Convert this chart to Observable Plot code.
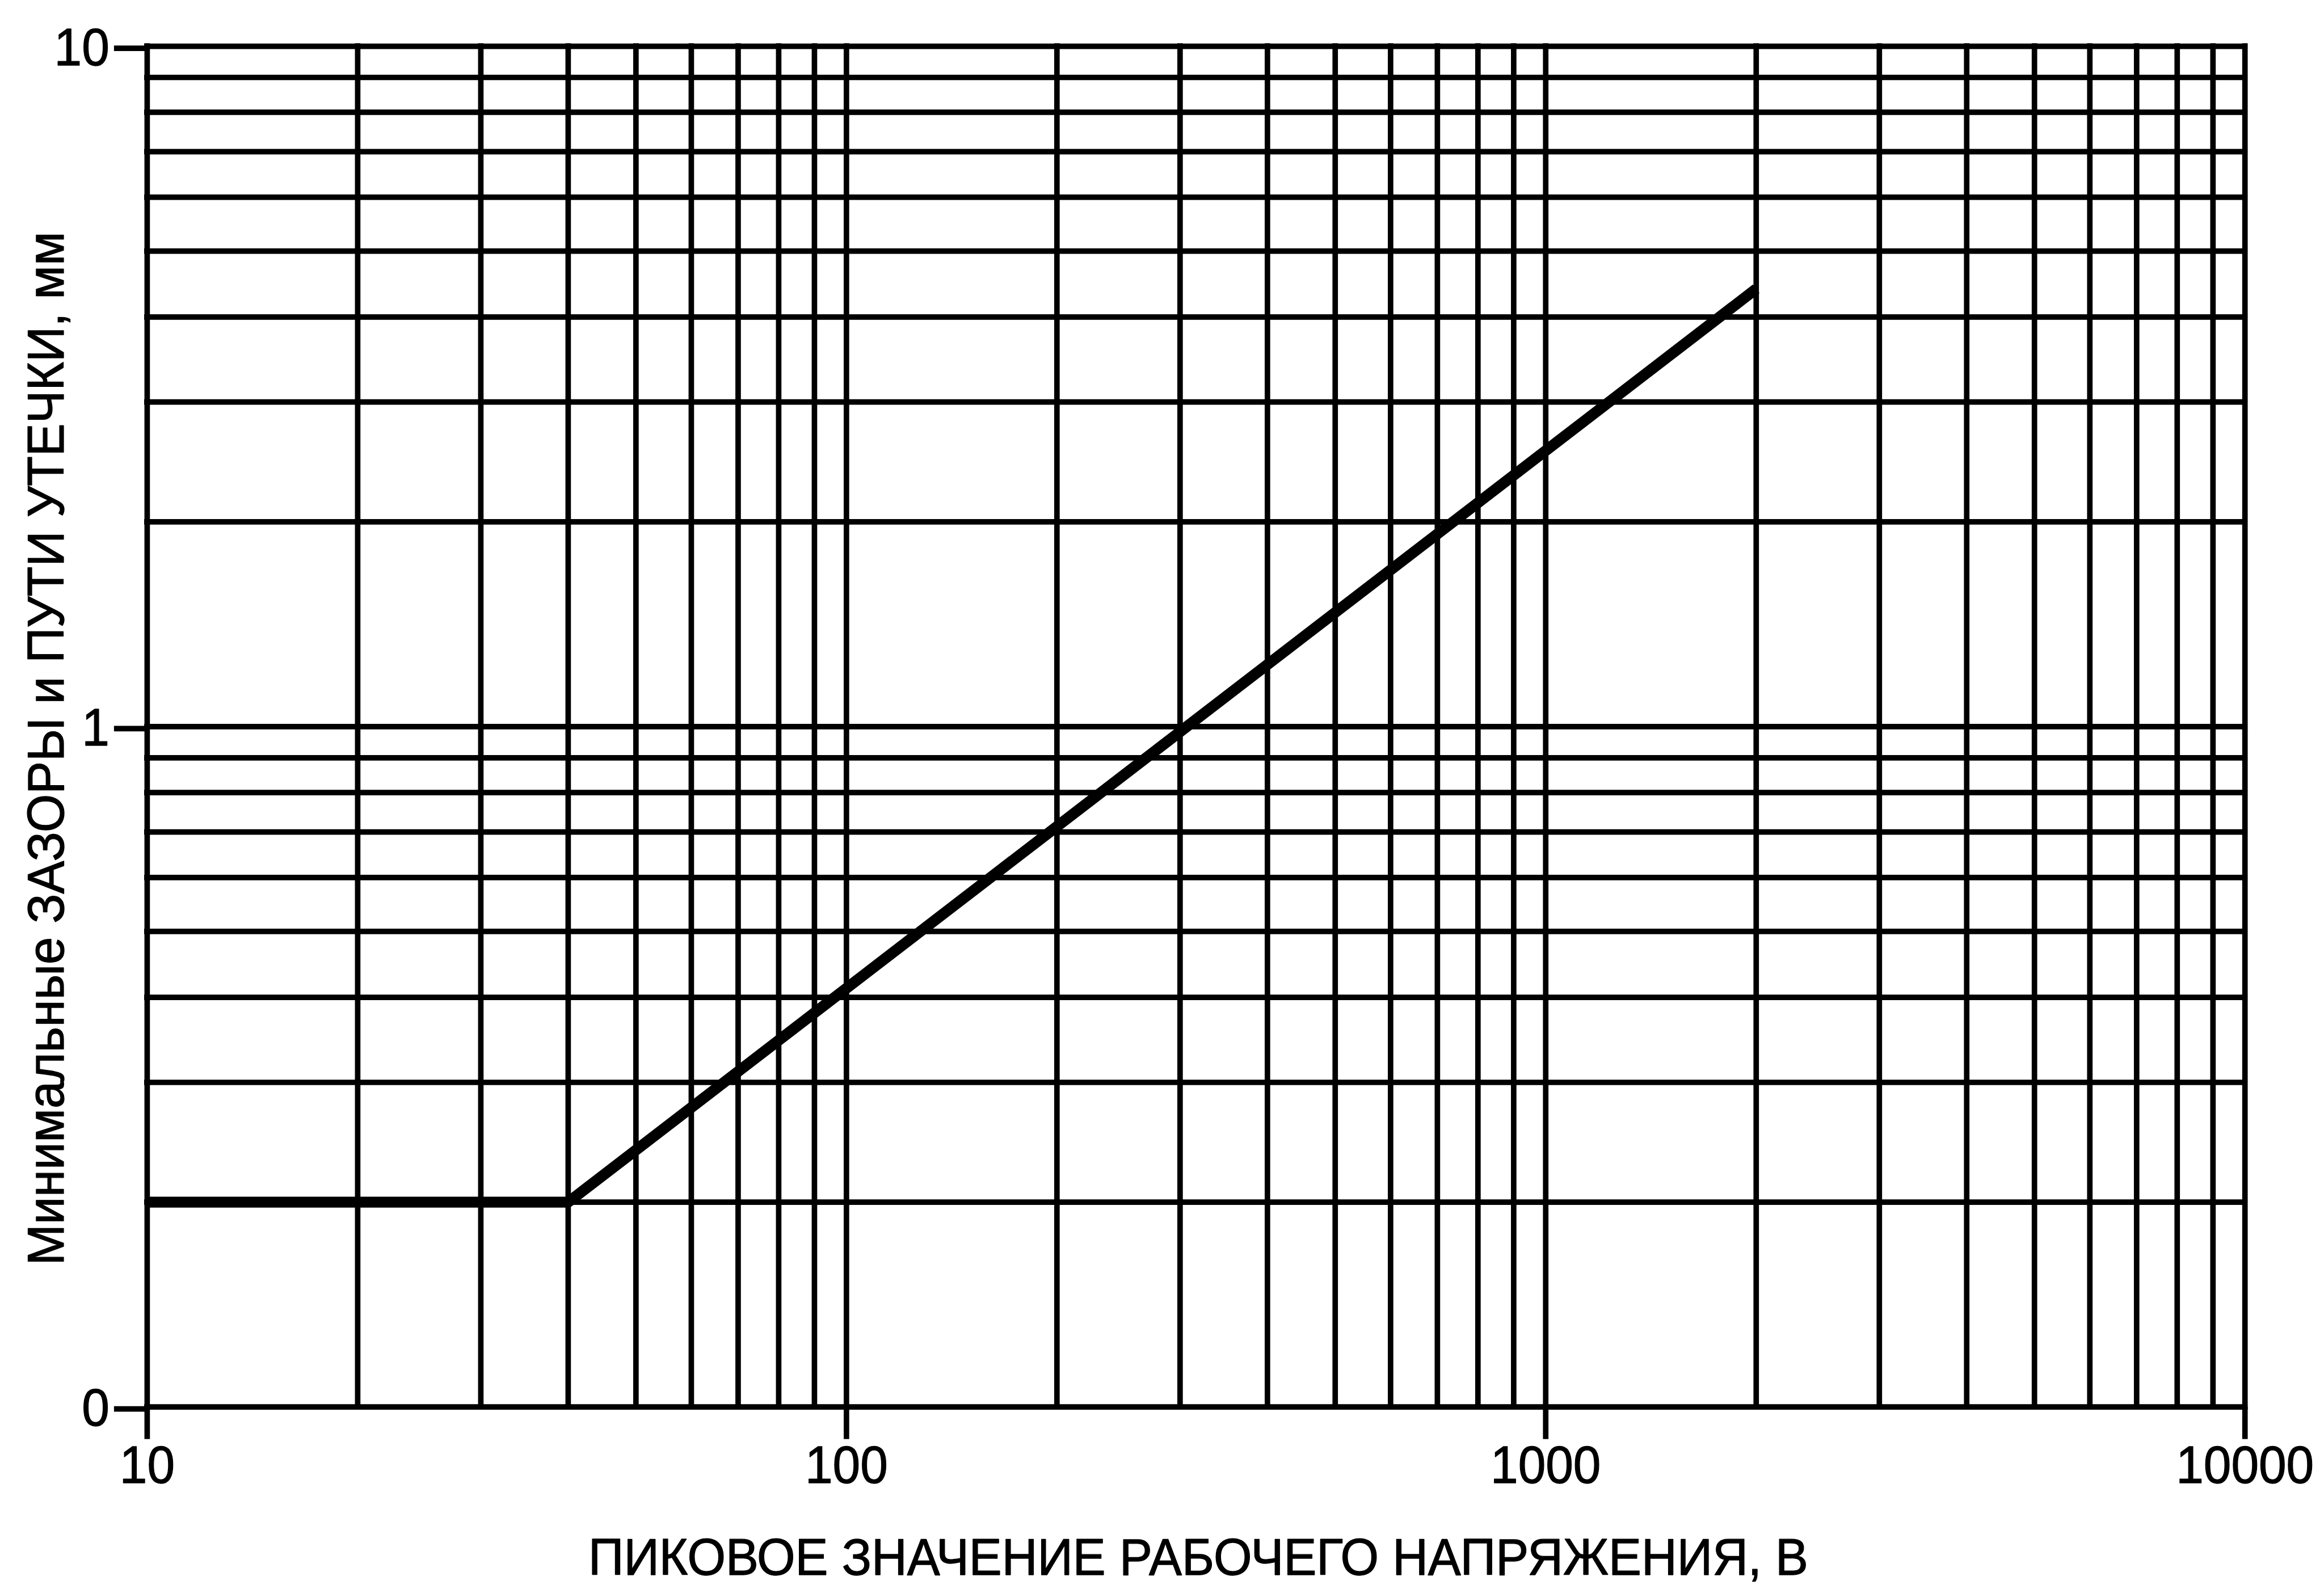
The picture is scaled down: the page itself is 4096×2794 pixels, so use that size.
<!DOCTYPE html>
<html>
<head>
<meta charset="utf-8">
<script src="https://cdn.jsdelivr.net/npm/d3@7"></script>
<script src="https://cdn.jsdelivr.net/npm/@observablehq/plot@0.6"></script>
<style>
  html, body { margin: 0; padding: 0; background: #fff; overflow: hidden; }
  svg { display: block; }
</style>
</head>
<body>
<script>
// ---- data ----
const voltage   = [10, 40, 2000];        // peak working voltage, V
const clearance = [0.2, 0.2, 4.4];       // minimum clearance / creepage, mm

const xTickValues = [10, 100, 1000, 10000];
const xTickLabels = ["10", "100", "1000", "10000"];
const yTickValues = [0.1, 1, 10];
const yTickLabels = ["0", "1", "10"];

const xGridValues = [10, 20, 30, 40, 50, 60, 70, 80, 90,
                     100, 200, 300, 400, 500, 600, 700, 800, 900,
                     1000, 2000, 3000, 4000, 5000, 6000, 7000, 8000, 9000, 10000];
const yGridValues = [0.1, 0.2, 0.3, 0.4, 0.5, 0.6, 0.7, 0.8, 0.9,
                     1, 2, 3, 4, 5, 6, 7, 8, 9, 10];

const xTitle = "ПИКОВОЕ ЗНАЧЕНИЕ РАБОЧЕГО НАПРЯЖЕНИЯ, В";
const yTitle = "Минимальные ЗАЗОРЫ и ПУТИ УТЕЧКИ, мм";

// ---- chart ----
const W = 4096, H = 2794;
const mL = 258.9, mR = W - 3956.2, mT = 81.1, mB = H - 2479.7;
const font = "'Liberation Sans', Arial, Helvetica, sans-serif";

const points = voltage.map((v, i) => ({v, c: clearance[i]}));

const chart = Plot.plot({
  width: W,
  height: H,
  marginLeft: mL,
  marginRight: mR,
  marginTop: mT,
  marginBottom: mB,
  style: {background: "#fff", color: "#000", fontFamily: font},
  x: {type: "log", domain: [10, 10000]},
  y: {type: "log", domain: [0.1, 10]},
  marks: [
    Plot.gridX(xGridValues, {stroke: "#000", strokeOpacity: 1, strokeWidth: 9.7, strokeLinecap: "square"}),
    Plot.gridY(yGridValues, {stroke: "#000", strokeOpacity: 1, strokeWidth: 9.7, strokeLinecap: "square"}),
    Plot.line(points, {x: "v", y: "c", stroke: "#000", strokeWidth: 19.3,
                       strokeLinecap: "butt", strokeLinejoin: "miter"}),
    Plot.axisX(xTickValues, {
      anchor: "bottom", tickSize: 57, tickPadding: 11.6, strokeWidth: 9.7,
      fontSize: 92, label: null, fill: "#000",
      tickFormat: d => xTickLabels[xTickValues.indexOf(d)]
    }),
    Plot.axisY(yTickValues, {
      anchor: "left", tickSize: 58, tickPadding: 8.6, strokeWidth: 9.7,
      fontSize: 92, label: null, fill: "#000", dy: 3.5,
      tickFormat: d => yTickLabels[yTickValues.indexOf(d)]
    }),
    Plot.text([xTitle], {
      frameAnchor: "bottom", text: d => d, lineAnchor: "bottom",
      dx: 4, dy: 295.6, fontSize: 90, fill: "#000"
    }),
    Plot.text([yTitle], {
      frameAnchor: "left", text: d => d, lineAnchor: "bottom", rotate: -90,
      textAnchor: "middle", dx: -147.9, dy: 38.6, fontSize: 90, fill: "#000"
    })
  ]
});

document.body.appendChild(chart);

// slightly condensed, slightly heavier lettering, as in the original drawing
const svg = d3.select(chart);
svg.selectAll('g[aria-label="x-axis tick label"] text, g[aria-label="y-axis tick label"] text')
  .each(function () {
    const len = this.getComputedTextLength();
    this.setAttribute("textLength", (len * 0.95).toFixed(1));
    this.setAttribute("lengthAdjust", "spacingAndGlyphs");
  });
svg.selectAll('g[aria-label="text"] text').each(function () {
  const t = this.textContent;
  const target = t === xTitle ? 2150 : 1822;
  this.setAttribute("textLength", target);
  this.setAttribute("lengthAdjust", "spacingAndGlyphs");
});
svg.selectAll("text")
  .style("stroke", "#000")
  .style("stroke-width", "1.3px")
  .style("stroke-linejoin", "round");
</script>
</body>
</html>
